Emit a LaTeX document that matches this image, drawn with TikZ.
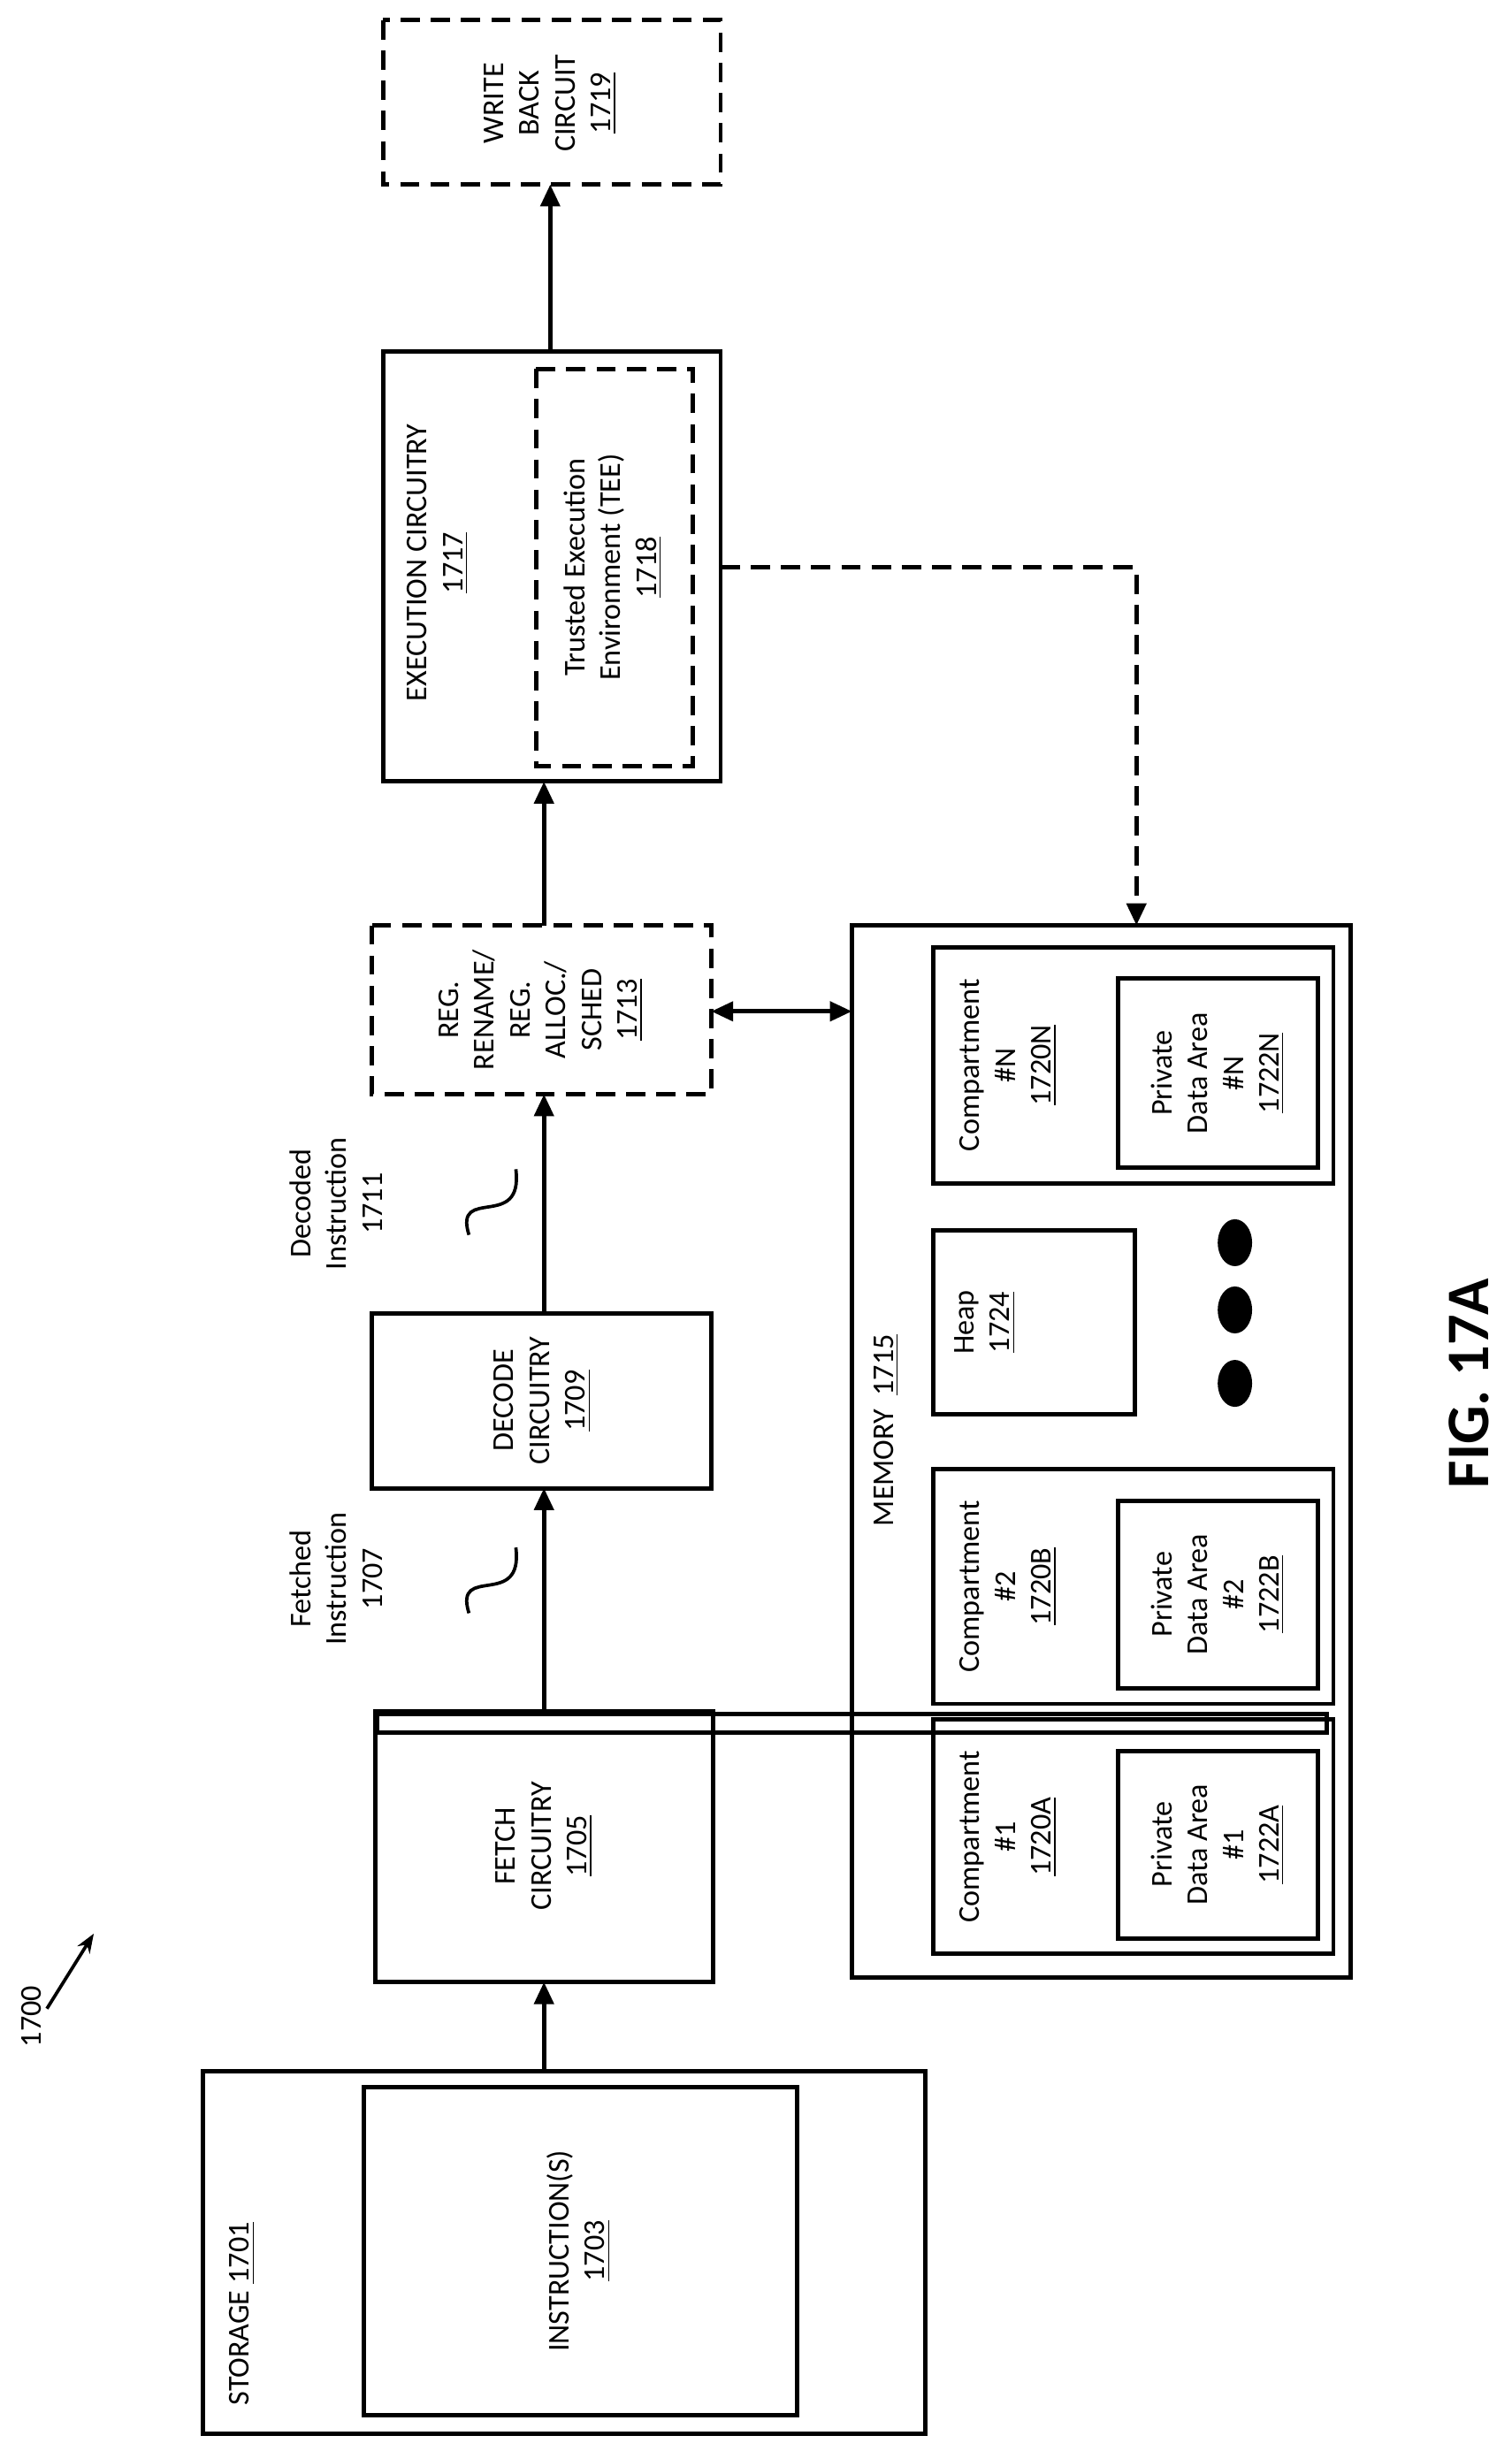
\documentclass[tikz,border=0pt]{standalone}
\usepackage{fontspec}
\setmainfont{Carlito}
\usetikzlibrary{arrows.meta}
\begin{document}
\begin{tikzpicture}[x=0.02cm,y=-0.02cm,
 box/.style={draw,line width=1.6pt},
 dbox/.style={draw,line width=1.6pt,dash pattern=on 7pt off 4pt},
 t/.style={rotate=90,align=center,font=\fontsize{11}{13}\selectfont},
 arr/.style={line width=1.6pt,-{Triangle[length=8pt,width=7pt]}}]
\useasboundingbox (0,0) rectangle (967,1568);
\fill[white] (0,0) rectangle (967,1568);
% storage
\draw[box] (130,1325) rectangle (592,1557);
\node[t,anchor=west] (stl) at (155,1545) {STORAGE \underline{1701}};
\draw[box] (233,1335) rectangle (510,1545);
\node[t] (ins) at (370,1440) {INSTRUCTION(S)\\\underline{1703}};
\node[t] (l1700) at (20,1290) {1700};
\coordinate (a1) at (30,1285); \coordinate (a2) at (60,1237);
\draw[line width=1.2pt,-{Stealth[length=7pt]}] (a1) -- (a2);
% fetch
\node[box,minimum width=216\pgflinewidth,anchor=north west] (fetchbox) at (240,1095) {};
\draw[box] (240,1095) rectangle (456,1268);
\coordinate (fetchT) at (348,1095); \coordinate (fetchB) at (348,1268);
\node[t] (fetch) at (348,1181) {FETCH\\CIRCUITRY\\\underline{1705}};
\coordinate (stT) at (348,1325);
\draw[arr] (stT) -- (fetchB);
% decode
\draw[box] (238,840) rectangle (455,952);
\coordinate (decT) at (348,840); \coordinate (decB) at (348,952);
\node[t] (dec) at (347,896) {DECODE\\CIRCUITRY\\\underline{1709}};
\draw[arr] (fetchT) -- (decB);
\node[t] (fi) at (215,1010) {Fetched\\Instruction\\1707};
\draw[line width=1.2pt] (300,1032) .. controls (290,1000) and (335,1030) .. (330,990);
% reg
\draw[dbox] (238,592) rectangle (455,700);
\coordinate (regT) at (348,592); \coordinate (regB) at (348,700); \coordinate (regR) at (455,647);
\node[t] (reg) at (346,646) {REG.\\RENAME/\\REG.\\ALLOC./\\SCHED\\\underline{1713}};
\draw[arr] (decT) -- (regB);
\node[t] (di) at (215,770) {Decoded\\Instruction\\1711};
\draw[line width=1.2pt] (300,790) .. controls (290,758) and (335,788) .. (330,748);
% exec
\draw[box] (245,225) rectangle (461,500);
\coordinate (exT) at (352,225); \coordinate (exB) at (348,500);
\node[t] (ex) at (280,360) {EXECUTION CIRCUITRY\\\underline{1717}};
\draw[dbox] (343,236) rectangle (443,490);
\coordinate (teeR) at (461,363);
\node[t] (tee) at (392,363) {Trusted Execution\\Environment (TEE)\\\underline{1718}};
\draw[arr] (regT) -- (exB);
% write back
\draw[dbox] (245,13) rectangle (461,118);
\coordinate (wbB) at (352,118);
\node[t] (wb) at (352,66) {WRITE\\BACK\\CIRCUIT\\\underline{1719}};
\draw[arr] (exT) -- (wbB);
% memory
\draw[box] (545,592) rectangle (864,1265);
\coordinate (memT) at (727,592); \coordinate (memL) at (545,647);
\node[t] (mem) at (567,915) {MEMORY \ \underline{1715}};
\draw[arr,dash pattern=on 7pt off 4pt] (teeR) -| (memT);
\draw[line width=1.6pt,{Triangle[length=8pt,width=7pt]}-{Triangle[length=8pt,width=7pt]}] (regR) -- (memL);
% compartments
\foreach \yt/\yb/\n/\c/\p in {1100/1250/1/1720A/1722A, 940/1090/2/1720B/1722B, 606/757/N/1720N/1722N}{
  \draw[box] (597,\yt) rectangle (853,\yb);
  \draw[box] (715,\yt+20) rectangle (843,\yb-10);
  \node[t] at (645,{(\yt+\yb)/2}) {Compartment\\\#\n\\\underline{\c}};
  \node[t] at (779,{(\yt+\yb)/2+5}) {Private\\Data Area\\\#\n\\\underline{\p}};
}
\draw[box] (597,787) rectangle (726,905);
\node[t] (heap) at (630,846) {Heap\\\underline{1724}};
\foreach \yy in {795,838,885} \fill (790,\yy) ellipse (11 and 15);
\node[rotate=90,font=\bfseries\fontsize{22}{26}\selectfont] (fig) at (940,885) {FIG. 17A};
\end{tikzpicture}
\end{document}
